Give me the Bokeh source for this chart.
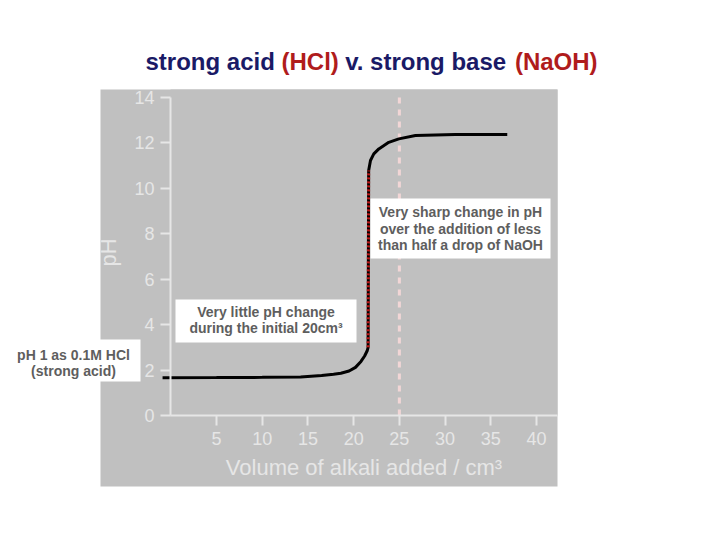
from bokeh.plotting import figure
from bokeh.models import FixedTicker, Range1d
from bokeh.core.properties import value
from bokeh.embed import file_html
from bokeh.resources import INLINE

# ---------------- data ----------------
volume = [-0.9, 5, 10, 14.2, 16.5, 17.8, 18.6, 19.5, 20.2, 20.8, 21.2, 21.48, 21.58,
          21.64, 21.84, 22.2, 22.75, 23.84, 24.94, 26.76, 31.1, 36.8]
ph = [1.66, 1.67, 1.68, 1.70, 1.76, 1.82, 1.86, 1.96, 2.12, 2.38, 2.62, 2.85, 3.0,
      10.79, 11.23, 11.52, 11.74, 12.03, 12.18, 12.33, 12.37, 12.37]
steep_volume = [21.58, 21.64]
steep_ph = [3.0, 10.79]
marker_volume = [25, 25]
marker_ph = [0, 14]
x_ticks = [5, 10, 15, 20, 25, 30, 35, 40]
y_ticks = [0, 2, 4, 6, 8, 10, 12, 14]

title_parts = ["strong acid", "(HCl)", "v. strong base", "(NaOH)"]
notes = ["pH 1 as 0.1M HCl", "(strong acid)",
         "Very little pH change", "during the initial 20cm³",
         "Very sharp change in pH", "over the addition of less", "than half a drop of NaOH"]

# ---------------- layout (canvas pixels) ----------------
W, H = 704, 524
PX0, PXU = 170.3, 9.143      # canvas x of volume 0, px per cm3
PY0, PYU = 415.0, 22.71      # canvas y of pH 0, px per pH unit
FL, FR, FT, FB = 170, 557, 89, 415


def xd(px):
    return (px - PX0) / PXU


def yd(py):
    return (PY0 - py) / PYU


FONT = "Liberation Sans"
GREY = "#c0c0c0"
LIGHT = "#e6e6e6"
TXT = "#5e5e5e"
NAVY = "#1a1a66"
RED = "#b01c1c"

p = figure(width=W, height=H, output_backend="svg", toolbar_location=None,
           x_range=Range1d(xd(FL), xd(FR)), y_range=Range1d(yd(FB), yd(FT)),
           min_border_left=FL, min_border_right=W - FR,
           min_border_top=FT, min_border_bottom=H - FB)
p.background_fill_color = GREY
p.border_fill_color = "white"
p.outline_line_color = None
p.grid.visible = False

# grey panel behind the chart (extends left of and below the axes)
p.quad(left=[xd(100)], right=[xd(FR)], bottom=[yd(486)], top=[yd(FT)],
       fill_color=GREY, line_color=None, level="guide")

# axes
for ax in (p.xaxis[0], p.yaxis[0]):
    ax.level = "annotation"
    ax.axis_line_color = LIGHT
    ax.axis_line_width = 2
    ax.major_tick_line_color = LIGHT
    ax.major_tick_line_width = 2
    ax.minor_tick_line_color = None
    ax.major_tick_in = 0
    ax.major_tick_out = 10
    ax.major_label_text_color = LIGHT
    ax.major_label_text_font = FONT
    ax.major_label_text_font_size = "18px"
    ax.major_label_standoff = 6
    ax.axis_label_text_color = LIGHT
    ax.axis_label_text_font = FONT
    ax.axis_label_text_font_size = "22px"
    ax.axis_label_text_font_style = "normal"

p.xaxis.ticker = FixedTicker(ticks=x_ticks)
p.yaxis.ticker = FixedTicker(ticks=y_ticks)
p.yaxis.bounds = (0, 14)
p.xaxis.axis_label = "Volume of alkali added / cm³"
p.yaxis.axis_label = "pH"
p.xaxis.axis_label_standoff = 7
p.yaxis.axis_label_standoff = 10

# equivalence marker line
p.line(marker_volume, marker_ph, line_color="#f2d6d6", line_width=3, line_dash="6 6",
       level="annotation")

# titration curve
p.line(volume, ph, line_color="black", line_width=3, level="annotation")
p.line(steep_volume, steep_ph, line_color="#c01818", line_width=3, line_dash="2 2",
       level="annotation")

# annotation boxes (canvas px: left, right, top, bottom)
boxes = [(0, 140, 339, 381), (175, 356, 299, 342), (370, 550, 198, 258)]
p.quad(left=[xd(b[0]) for b in boxes], right=[xd(b[1]) for b in boxes],
       top=[yd(b[2]) for b in boxes], bottom=[yd(b[3]) for b in boxes],
       fill_color="white", line_color=None, level="annotation")

note_px = [73, 73, 265.5, 265.5, 460, 460, 460]
note_py = [354, 370, 311, 327, 211, 228, 244]
p.text(x=[xd(v) for v in note_px], y=[yd(v) for v in note_py], text=notes,
       text_align="center", text_baseline="middle", text_font=value(FONT),
       text_font_size="14px", text_font_style="bold", text_color=TXT, level="overlay")

# title in two colours
title_px = [145.0, 281.0, 344.7, 514.4]
title_col = [NAVY, RED, NAVY, RED]
p.text(x=[xd(v) for v in title_px], y=[yd(61)] * 4, text=title_parts,
       text_align="left", text_baseline="middle", text_font=value(FONT),
       text_font_size="24px", text_font_style="bold", text_color=title_col,
       level="overlay")

open("out.html", "w").write(file_html(p, INLINE))
